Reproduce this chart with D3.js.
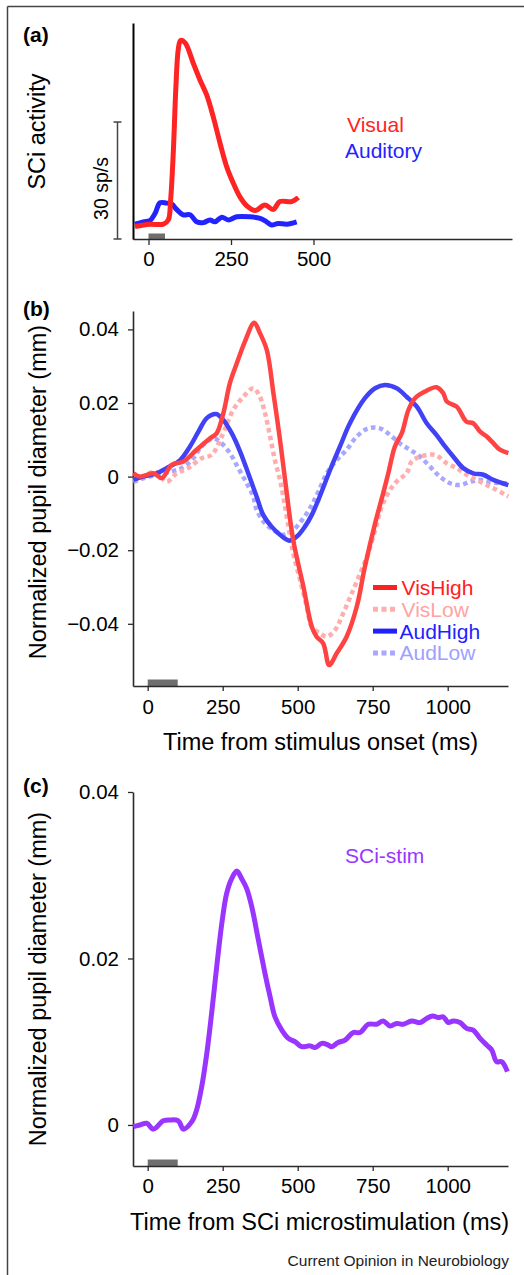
<!DOCTYPE html>
<html>
<head>
<meta charset="utf-8">
<script src="https://cdn.jsdelivr.net/npm/d3@7"></script>
<style>
  html, body { margin: 0; padding: 0; background: #fff; }
  svg { display: block; }
  text { font-family: "Liberation Sans", Arial, Helvetica, sans-serif; }
</style>
</head>
<body>
<svg id="chart" width="524" height="1275"></svg>
<script>
// ---------- DATA ----------
// Panel (a): SCi activity (sp/s) vs time (ms)
const visualT = [-41, 4, 45, 60, 67, 75, 83, 90, 97, 111, 136, 156, 176, 196, 217, 237, 257, 277, 298, 323, 353, 378, 398, 434, 454];
const visualV = [3.2, 3.8, 3.8, 4.9, 10, 22, 39, 48.5, 50.9, 50.3, 45, 40.8, 37, 31.4, 24.5, 18.5, 14.3, 10.8, 8.5, 7.3, 8.7, 7.6, 9.6, 9.6, 10.7];
const auditoryT = [-41, -16, 4, 20, 35, 55, 70, 85, 105, 126, 146, 166, 186, 201, 222, 242, 267, 308, 338, 358, 373, 393, 419, 449];
const auditoryV = [3.8, 4.4, 4.7, 6.6, 9.3, 9.2, 9.0, 7.6, 6.2, 6.2, 4.4, 4.2, 4.9, 4.4, 5.6, 4.9, 5.7, 5.7, 5.3, 4.4, 3.6, 4.0, 3.8, 4.4];
const aTicks = [0, 250, 500];
const aScaleBar = 30; // sp/s

// Panel (b): normalized pupil diameter (mm)
const visHighT = [-48, -26, 19, 47, 80, 119, 163, 208, 230, 252, 274, 297, 324, 355, 374, 397, 419, 441, 458, 485, 519, 547, 563, 585, 605, 630, 663, 697, 724, 758, 785, 802, 824, 847, 869, 891, 924, 963, 985, 997, 1030, 1063, 1085, 1108, 1130, 1152, 1174, 1202];
const visHighV = [0.0009, 0, 0.0009, -0.0004, 0.0032, 0.0041, 0.0073, 0.0104, 0.0118, 0.0172, 0.0254, 0.0308, 0.0367, 0.0418, 0.039, 0.0344, 0.0227, 0.01, -0.0009, -0.0172, -0.0299, -0.0408, -0.0435, -0.0453, -0.0512, -0.048, -0.0435, -0.0353, -0.0245, -0.0127, -0.0045, 0.0009, 0.0082, 0.0118, 0.0181, 0.0213, 0.0231, 0.0243, 0.0227, 0.0204, 0.019, 0.0149, 0.0145, 0.0122, 0.0109, 0.0091, 0.0073, 0.0064];
const visLowT = [-48, -15, 24, 63, 97, 135, 180, 213, 247, 285, 319, 352, 374, 391, 408, 424, 441, 452, 469, 485, 508, 530, 547, 574, 597, 624, 652, 685, 713, 735, 758, 780, 808, 835, 863, 880, 908, 958, 997, 1030, 1063, 1097, 1130, 1163, 1202];
const visLowV = [-0.0009, 0, 0.0014, -0.0014, 0.0009, 0.0023, 0.005, 0.0059, 0.0109, 0.0181, 0.0217, 0.024, 0.0217, 0.0172, 0.0109, 0.0045, -0.0009, -0.0054, -0.0136, -0.0208, -0.0281, -0.0353, -0.0408, -0.0426, -0.0435, -0.0417, -0.0371, -0.0308, -0.0254, -0.0208, -0.0145, -0.0082, -0.0036, -0.0009, 0.0009, 0.0041, 0.0054, 0.0059, 0.0036, 0.0023, 0.0005, -0.0009, -0.0023, -0.0036, -0.0054];
const audHighT = [-48, -15, 30, 63, 108, 141, 169, 197, 228, 252, 280, 308, 335, 363, 385, 413, 441, 472, 497, 524, 547, 569, 608, 641, 674, 724, 758, 791, 830, 863, 897, 930, 963, 991, 1019, 1052, 1085, 1119, 1152, 1202];
const audHighV = [-0.0009, 0, 0.0009, 0.0023, 0.0045, 0.0082, 0.0122, 0.0159, 0.017, 0.0154, 0.0118, 0.0068, 0.0009, -0.0054, -0.0104, -0.0136, -0.0158, -0.0174, -0.0163, -0.0136, -0.0104, -0.0063, 0.0018, 0.0082, 0.0145, 0.0213, 0.024, 0.0249, 0.024, 0.0217, 0.019, 0.0145, 0.0113, 0.0082, 0.0054, 0.0023, 0.0009, 0.0005, -0.0009, -0.0023];
const audLowT = [-48, -15, 30, 80, 113, 147, 180, 219, 247, 274, 302, 330, 352, 363, 391, 419, 452, 485, 519, 547, 569, 597, 630, 663, 697, 735, 774, 808, 841, 874, 908, 941, 974, 1008, 1041, 1074, 1108, 1141, 1174, 1202];
const audLowV = [-0.0014, -0.0005, 0.0005, 0.0014, 0.0023, 0.0045, 0.0082, 0.0104, 0.009, 0.0064, 0.0023, -0.0018, -0.0054, -0.009, -0.0127, -0.0145, -0.0158, -0.0145, -0.0113, -0.0077, -0.0041, 0.0009, 0.0045, 0.0073, 0.0109, 0.0131, 0.0131, 0.0113, 0.009, 0.0073, 0.0054, 0.0027, 0, -0.0018, -0.0023, -0.0014, -0.0009, -0.0014, -0.0018, -0.0018];
const bXTicks = [0, 250, 500, 750, 1000];
const bYTicks = [-0.04, -0.02, 0, 0.02, 0.04];
const bLegend = ["VisHigh", "VisLow", "AudHigh", "AudLow"];

// Panel (c): SCi microstimulation
const stimT = [-48, -26, -3, 19, 52, 74, 102, 119, 147, 163, 180, 197, 213, 230, 247, 263, 280, 297, 313, 330, 347, 369, 391, 408, 424, 447, 469, 491, 513, 541, 558, 580, 602, 613, 635, 658, 685, 708, 735, 763, 785, 808, 830, 852, 880, 908, 930, 950, 969, 985, 1002, 1019, 1041, 1063, 1085, 1108, 1130, 1147, 1163, 1180, 1199];
const stimV = [-0.0002, 0, 0.0002, -0.0005, 0.0005, 0.0006, 0.0005, -0.0005, 0.0004, 0.0018, 0.0046, 0.0086, 0.0134, 0.019, 0.0242, 0.0278, 0.0296, 0.0305, 0.0296, 0.0284, 0.0262, 0.0222, 0.0182, 0.0154, 0.013, 0.0114, 0.0104, 0.01, 0.0094, 0.0095, 0.0093, 0.0098, 0.0096, 0.0094, 0.0099, 0.0102, 0.0111, 0.0111, 0.0121, 0.0121, 0.0125, 0.0119, 0.0122, 0.0121, 0.0125, 0.0123, 0.0128, 0.0131, 0.0129, 0.013, 0.0123, 0.0125, 0.0123, 0.0116, 0.0114, 0.0104, 0.0096, 0.009, 0.0076, 0.0076, 0.0064];
const cYTicks = [0, 0.02, 0.04];
const stimDurA = 50, stimDurB = 100;

// ---------- DRAWING ----------
const svg = d3.select("#chart");
const zip = (t, v) => t.map((d, i) => [d, v[i]]);
const axisColor = "#2a2a2a";
const tickFont = 20.5, titleFont = 23.5, labelFont = 21;
const fmt = d => d === 0 ? "0" : d3.format(".2f")(d).replace("-", "\u2013");

// figure frame (top & left border)
svg.append("line").attr("x1", 7.5).attr("y1", 6.5).attr("x2", 524).attr("y2", 6.5).attr("stroke", "#444").attr("stroke-width", 1.5);
svg.append("line").attr("x1", 7.5).attr("y1", 6.5).attr("x2", 7.5).attr("y2", 1275).attr("stroke", "#444").attr("stroke-width", 1.5);

function styleAxis(g) {
  g.select(".domain").attr("stroke", axisColor).attr("stroke-width", 1.6);
  g.selectAll(".tick line").attr("stroke", axisColor).attr("stroke-width", 1.3);
  g.selectAll(".tick text").attr("fill", "#000").style("font-size", tickFont + "px")
    .style("font-family", '"Liberation Sans", Arial, Helvetica, sans-serif');
}
function panelLabel(txt, x, y) {
  svg.append("text").attr("x", x).attr("y", y).text(txt)
    .style("font-weight", "bold").style("font-size", "21px").attr("fill", "#000");
}
function yTitle(txt, x, y, size) {
  svg.append("text").attr("transform", `translate(${x},${y}) rotate(-90)`)
    .attr("text-anchor", "middle").style("font-size", (size || titleFont) + "px").attr("fill", "#000").text(txt);
}
function xTitle(txt, x, y) {
  svg.append("text").attr("x", x).attr("y", y).attr("text-anchor", "middle")
    .style("font-size", titleFont + "px").attr("fill", "#000").text(txt);
}

// ===== Panel (a) =====
const ax = d3.scaleLinear().domain([-47, 1101.5]).range([133, 512]);
const ay = d3.scaleLinear().domain([0, 55.4]).range([239, 23]);
const aLine = d3.line().x(d => ax(d[0])).y(d => ay(d[1])).curve(d3.curveCatmullRom.alpha(0.5));

svg.append("rect").attr("x", ax(0)).attr("y", ay(0) - 5.5).attr("width", ax(stimDurA) - ax(0)).attr("height", 5.5).attr("fill", "#6e6e6e");

const gaX = svg.append("g").attr("transform", `translate(0,${ay(0)})`)
  .call(d3.axisBottom(ax).tickValues(aTicks).tickSize(6).tickSizeOuter(0).tickPadding(6).tickFormat(d3.format("d")));
styleAxis(gaX);
const gaY = svg.append("g").attr("transform", `translate(${ax.range()[0]},0)`)
  .call(d3.axisLeft(ay).tickValues([]).tickSizeOuter(0));
gaY.select(".domain").attr("stroke", "#000").attr("stroke-width", 2);

// scale bar
const sbX = 117.5;
svg.append("line").attr("x1", sbX).attr("x2", sbX).attr("y1", ay(0)).attr("y2", ay(aScaleBar)).attr("stroke", "#444").attr("stroke-width", 1.5);
[0, aScaleBar].forEach(v => svg.append("line").attr("x1", sbX - 4).attr("x2", sbX + 4).attr("y1", ay(v)).attr("y2", ay(v)).attr("stroke", "#444").attr("stroke-width", 1.5));
yTitle("30 sp/s", 108, (ay(0) + ay(aScaleBar)) / 2 + 8, 19.5);
yTitle("SCi activity", 45, 131.5);

svg.append("path").datum(zip(auditoryT, auditoryV)).attr("d", aLine).attr("fill", "none").attr("stroke", "#2323ff").attr("stroke-width", 5).attr("stroke-linejoin", "round");
svg.append("path").datum(zip(visualT, visualV)).attr("d", aLine).attr("fill", "none").attr("stroke", "#ff2424").attr("stroke-width", 5).attr("stroke-linejoin", "round");

svg.append("text").attr("x", 347).attr("y", 131.5).style("font-size", labelFont + "px").attr("fill", "#ff2424").text("Visual");
svg.append("text").attr("x", 345).attr("y", 158).style("font-size", labelFont + "px").attr("fill", "#2323ff").text("Auditory");
panelLabel("(a)", 23, 42);

// ===== Panel (b) =====
const bx = d3.scaleLinear().domain([-49, 1201]).range([133, 508]);
const by = d3.scaleLinear().domain([-0.0569, 0.045]).range([686, 311]);
const bLine = d3.line().x(d => bx(d[0])).y(d => by(d[1])).curve(d3.curveCatmullRom.alpha(0.5));

svg.append("rect").attr("x", bx(0)).attr("y", 686 - 6.5).attr("width", bx(stimDurB) - bx(0)).attr("height", 6.5).attr("fill", "#6e6e6e");

const gbX = svg.append("g").attr("transform", `translate(0,686)`)
  .call(d3.axisBottom(bx).tickValues(bXTicks).tickSize(5).tickSizeOuter(0).tickPadding(8).tickFormat(d3.format("d")));
styleAxis(gbX);
const gbY = svg.append("g").attr("transform", `translate(133,0)`)
  .call(d3.axisLeft(by).tickValues(bYTicks).tickSize(5).tickSizeOuter(0).tickPadding(9).tickFormat(fmt));
styleAxis(gbY);

const bSeries = [
  { name: "AudLow", t: audLowT, v: audLowV, color: "#a8a8ff", text: "#a0a0ff", dash: "4.5,3.5" },
  { name: "VisLow", t: visLowT, v: visLowV, color: "#ffadad", text: "#ffa3a3", dash: "4.5,3.5" },
  { name: "AudHigh", t: audHighT, v: audHighV, color: "#4141f5", text: "#1f1fff", dash: null },
  { name: "VisHigh", t: visHighT, v: visHighV, color: "#ff4242", text: "#ff2020", dash: null }
];
bSeries.forEach(s => {
  svg.append("path").datum(zip(s.t, s.v)).attr("d", bLine).attr("fill", "none")
    .attr("stroke", s.color).attr("stroke-width", 4.5).attr("stroke-linejoin", "round")
    .attr("stroke-dasharray", s.dash);
});

// legend
bLegend.forEach((name, i) => {
  const s = bSeries.find(d => d.name === name);
  const yy = 587.5 + i * 21.8;
  svg.append("line").attr("x1", 373).attr("x2", 397).attr("y1", yy).attr("y2", yy)
    .attr("stroke", s.dash ? s.color : s.text).attr("stroke-width", 5).attr("stroke-dasharray", s.dash ? "5,3.5" : null);
  svg.append("text").attr("x", i >= 2 ? 399.5 : 401.5).attr("y", yy + 7.5).style("font-size", labelFont + "px")
    .attr("fill", s.text).text(name);
});

yTitle("Normalized pupil diameter (mm)", 46, 492);
xTitle("Time from stimulus onset (ms)", 320.5, 749.5);
panelLabel("(b)", 23, 316);

// ===== Panel (c) =====
const cx = d3.scaleLinear().domain([-49, 1201]).range([133, 508]);
const cy = d3.scaleLinear().domain([-0.00493, 0.04]).range([1166, 792]);
const cLine = d3.line().x(d => cx(d[0])).y(d => cy(d[1])).curve(d3.curveCatmullRom.alpha(0.5));

svg.append("rect").attr("x", cx(0)).attr("y", 1166 - 6.5).attr("width", cx(stimDurB) - cx(0)).attr("height", 6.5).attr("fill", "#6e6e6e");

const gcX = svg.append("g").attr("transform", `translate(0,1166)`)
  .call(d3.axisBottom(cx).tickValues(bXTicks).tickSize(5).tickSizeOuter(0).tickPadding(7).tickFormat(d3.format("d")));
styleAxis(gcX);
const gcY = svg.append("g").attr("transform", `translate(133,0)`)
  .call(d3.axisLeft(cy).tickValues(cYTicks).tickSize(5).tickSizeOuter(0).tickPadding(9).tickFormat(fmt));
styleAxis(gcY);

svg.append("path").datum(zip(stimT, stimV)).attr("d", cLine).attr("fill", "none")
  .attr("stroke", "#9a35ff").attr("stroke-width", 5).attr("stroke-linejoin", "round");

svg.append("text").attr("x", 345).attr("y", 863).style("font-size", labelFont + "px").attr("fill", "#9a35ff").text("SCi-stim");
yTitle("Normalized pupil diameter (mm)", 46, 979);
xTitle("Time from SCi microstimulation (ms)", 319.5, 1230);
panelLabel("(c)", 23, 793);

svg.append("text").attr("x", 509).attr("y", 1265.5).attr("text-anchor", "end")
  .style("font-size", "15.5px").attr("fill", "#222").text("Current Opinion in Neurobiology");
</script>
</body>
</html>
